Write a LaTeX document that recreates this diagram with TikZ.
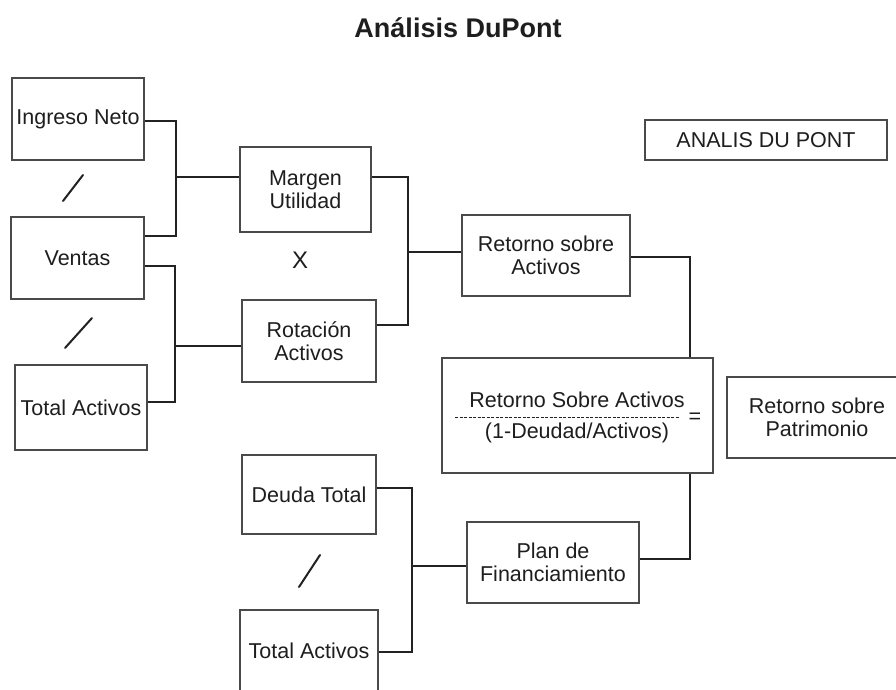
\documentclass[tikz,border=0pt]{standalone}
\usepackage{fontspec}
\setmainfont{Liberation Sans}
\usetikzlibrary{calc}

\definecolor{boxgray}{HTML}{4A4A4A}
\definecolor{linkgray}{HTML}{222222}
\definecolor{inkgray}{HTML}{1E1E1E}
\newcommand{\boxfont}{\fontsize{21.5}{23}\selectfont}

\tikzset{
    cell/.style={draw=boxgray, line width=1.6pt, fill=white, inner sep=0pt,
                 align=center, text=inkgray, font=\boxfont},
    link/.style={draw=linkgray, line width=2.4pt},
    slash/.style={draw=linkgray, line width=2pt, line cap=round}
}

\begin{document}
\begin{tikzpicture}[x=1pt, y=-1pt]

    \clip (0,0) rectangle (896,689);
    \fill[white] (0,0) rectangle (896,689);

    \node[text=inkgray, font=\fontsize{27}{30}\selectfont\bfseries] (title) at (458,28) {Análisis DuPont};

    % left column
    \node[cell, minimum width=132pt, minimum height=82pt] (ingreso) at (78,119) {Ingreso Neto};
    \node[cell, minimum width=133pt, minimum height=82pt] (ventas) at (77.5,258) {Ventas};
    \node[cell, minimum width=132pt, minimum height=85pt] (totala) at (81,407.5) {Total Activos};

    \draw[slash] (63,201) -- (83,175);
    \draw[slash] (65,348) -- (92,318);

    % second column
    \node[cell, minimum width=131pt, minimum height=85pt] (margen) at (305.5,189.5) {Margen\\Utilidad};
    \node[cell, minimum width=134pt, minimum height=82pt] (rotacion) at (309,341) {Rotación\\Activos};
    \node[text=inkgray, font=\fontsize{24}{26}\selectfont] (por) at (300,260) {X};

    \node[cell, minimum width=168pt, minimum height=81pt] (retact) at (546,255.5) {Retorno sobre\\Activos};

    % formula
    \node[cell, minimum width=271pt, minimum height=115pt] (formula) at (577.5,415.5) {};
    \node[text=inkgray, font=\boxfont, inner sep=0pt] (num) at (577,400) {Retorno Sobre Activos};
    \node[text=inkgray, font=\boxfont, inner sep=0pt] (den) at (577,433) {(1-Deudad/Activos)};
    \coordinate (barL) at (455,417);
    \coordinate (barR) at (680,417);
    \draw[linkgray, line width=1pt, dash pattern=on 3pt off 1.5pt] (barL) -- (barR);
    \node[text=inkgray, font=\boxfont, inner sep=0pt] (igual) at (695,418) {=};

    \node[cell, minimum width=180pt, minimum height=81pt] (retpat) at (817,417.5) {Retorno sobre\\Patrimonio};

    \node[cell, minimum width=242pt, minimum height=40pt] (analis) at (766,140) {ANALIS DU PONT};

    % financing
    \node[cell, minimum width=134pt, minimum height=79pt] (deuda) at (309,494.5) {Deuda Total};
    \node[cell, minimum width=138pt, minimum height=82pt] (totalb) at (309,651) {Total Activos};
    \draw[slash] (299,587) -- (320,555);

    \node[cell, minimum width=172pt, minimum height=81pt] (plan) at (553,562.5) {Plan de\\Financiamiento};

    % connectors
    \coordinate (busA) at (176,177);
    \coordinate (busB) at (175,346);
    \coordinate (busC) at (408,252);
    \coordinate (busD) at (690,0);
    \coordinate (busE) at (412,566);

    \draw[link] ([yshift=-2pt]ingreso.east) -| (busA) |- ([yshift=22pt]ventas.east);
    \draw[link] (busA) -- (busA -| margen.west);

    \draw[link] ([yshift=-8pt]ventas.east) -| (busB) |- ([yshift=5.5pt]totala.east);
    \draw[link] (busB) -- (busB -| rotacion.west);

    \draw[link] ([yshift=12.5pt]margen.east) -| (busC) |- ([yshift=16pt]rotacion.east);
    \draw[link] (busC) -- (busC -| retact.west);

    \draw[link] ([yshift=-1.5pt]retact.east) -| (busD |- formula.north);
    \draw[link] ([yshift=3.5pt]plan.east) -| (busD |- formula.south);

    \draw[link] ([yshift=6.5pt]deuda.east) -| (busE) |- ([yshift=-1pt]totalb.east);
    \draw[link] (busE) -- (busE -| plan.west);

\end{tikzpicture}
\end{document}
